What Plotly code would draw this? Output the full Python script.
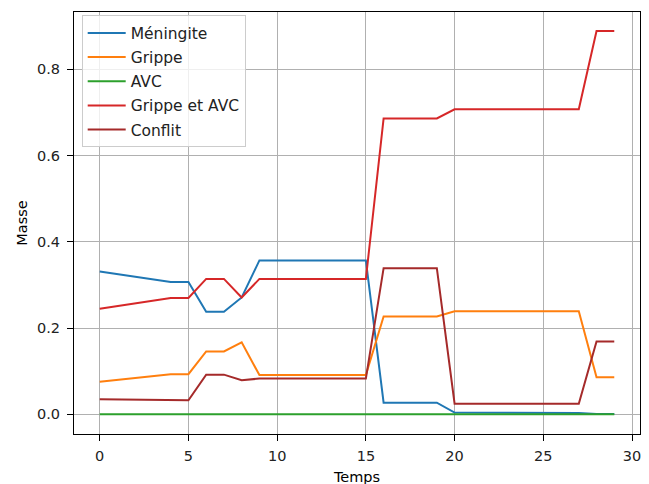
import plotly.graph_objects as go

temps = [0, 4, 5, 6, 7, 8, 9, 15, 16, 19, 20, 27, 28, 29]
meningite = [0.331, 0.307, 0.307, 0.238, 0.238, 0.271, 0.357, 0.357, 0.027, 0.027, 0.004, 0.003, 0.001, 0.001]
grippe = [0.0755, 0.093, 0.093, 0.146, 0.146, 0.167, 0.091, 0.091, 0.227, 0.227, 0.239, 0.239, 0.086, 0.086]
avc = [0.0] * len(temps)
grippe_avc = [0.245, 0.270, 0.270, 0.314, 0.314, 0.271, 0.314, 0.314, 0.686, 0.686, 0.7075, 0.7075, 0.889, 0.889]
conflit = [0.0347, 0.0324, 0.0324, 0.092, 0.092, 0.079, 0.083, 0.083, 0.339, 0.339, 0.0247, 0.0247, 0.169, 0.169]

series = [
    ("Méningite", meningite, "#1f77b4"),
    ("Grippe", grippe, "#ff7f0e"),
    ("AVC", avc, "#2ca02c"),
    ("Grippe et AVC", grippe_avc, "#d62728"),
    ("Conflit", conflit, "#a52a2a"),
]

fig = go.Figure()
for i, (name, vals, color) in enumerate(series):
    fig.add_trace(go.Scatter(x=temps, y=vals, mode="lines", name=name,
                             legendgroup=f"g{i}",
                             line=dict(color=color, width=2)))

axis_common = dict(
    showline=True, linecolor="black", linewidth=1, mirror=True,
    ticks="outside", ticklen=6, tickcolor="black", tickwidth=1,
    showgrid=True, gridcolor="#b0b0b0", gridwidth=1, zeroline=False,
    tickfont=dict(family="DejaVu Sans", size=14.5, color="#222222"),
    automargin=False,
)

fig.update_layout(
    width=649, height=484,
    margin=dict(l=66, r=17, t=4, b=58),
    paper_bgcolor="white", plot_bgcolor="white",
    font=dict(family="DejaVu Sans", size=14.5, color="black"),
    xaxis=dict(range=[-1.45, 30.45], tickvals=[0, 5, 10, 15, 20, 25, 30],
               ticklabelstandoff=3,
               title=dict(text="Temps", standoff=8, font=dict(size=14.5)), **axis_common),
    yaxis=dict(range=[-0.0456, 0.933], tickvals=[0, 0.2, 0.4, 0.6, 0.8],
               tickformat=".1f", ticklabelstandoff=4,
               title=dict(text="Masse", standoff=5, font=dict(size=14.5)), **axis_common),
    legend=dict(x=0.0136, y=0.992, xanchor="left", yanchor="top",
                bgcolor="rgba(255,255,255,0.8)", bordercolor="#cccccc", borderwidth=1,
                traceorder="grouped", tracegroupgap=1, itemwidth=38,
                font=dict(family="DejaVu Sans", size=15.5, color="#222222")),
    showlegend=True,
)

fig.write_html("out.html")
